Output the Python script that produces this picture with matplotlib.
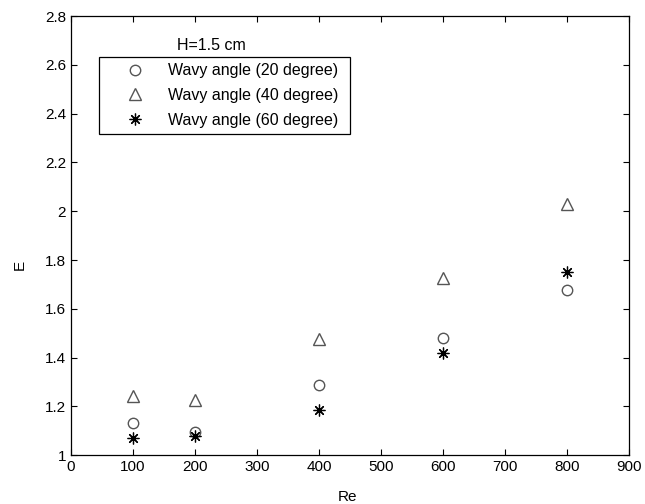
import matplotlib
matplotlib.use("Agg")
import matplotlib.pyplot as plt

plt.rcParams['font.family'] = ['Liberation Sans', 'DejaVu Sans']

re_values = [100, 200, 400, 600, 800]
e_angle20 = [1.13, 1.094, 1.287, 1.48, 1.677]
e_angle40 = [1.242, 1.225, 1.475, 1.726, 2.03]
e_angle60 = [1.07, 1.08, 1.185, 1.42, 1.75]

fig = plt.figure(figsize=(6.45, 5.04), dpi=100)
ax = fig.add_axes([0.110, 0.097, 0.865, 0.871])

ax.plot(re_values, e_angle20, linestyle='none', marker='o', markersize=7.5,
        markerfacecolor='none', markeredgecolor='#555555', markeredgewidth=1.0,
        label='Wavy angle (20 degree)')
ax.plot(re_values, e_angle40, linestyle='none', marker='^', markersize=8.5,
        markerfacecolor='none', markeredgecolor='#555555', markeredgewidth=1.0,
        label='Wavy angle (40 degree)')
ax.plot(re_values, e_angle60, linestyle='none', marker=(8, 2, 0), markersize=8.5,
        markeredgecolor='black', markeredgewidth=0.9,
        label='Wavy angle (60 degree)')

ax.set_xlim(0, 900)
ax.set_ylim(1, 2.8)
ax.set_xticks(range(0, 901, 100))
ax.set_yticks([1, 1.2, 1.4, 1.6, 1.8, 2, 2.2, 2.4, 2.6, 2.8])
ax.set_yticklabels(['1', '1.2', '1.4', '1.6', '1.8', '2', '2.2', '2.4', '2.6', '2.8'])
ax.tick_params(direction='in', top=True, right=True, labelsize=11, length=4, width=0.8)
for s in ax.spines.values():
    s.set_linewidth(0.9)

ax.set_xlabel('Re', fontsize=11)
ax.xaxis.set_label_coords(0.496, -0.08)
ax.set_ylabel('E', fontsize=11)
ax.yaxis.set_label_coords(-0.08, 0.433)

leg = ax.legend(loc='upper left', bbox_to_anchor=(0.05, 0.729, 0.45, 0.178),
                mode='expand', fontsize=11.5, fancybox=False, edgecolor='black',
                framealpha=1, borderaxespad=0, handletextpad=0.2, labelspacing=0.6,
                borderpad=0.4, handlelength=3.7)
leg.get_frame().set_linewidth(0.9)
ax.text(0.251, 0.934, 'H=1.5 cm', transform=ax.transAxes, ha='center', va='center',
        fontsize=11.5)

fig.savefig('out.png', dpi=100)
